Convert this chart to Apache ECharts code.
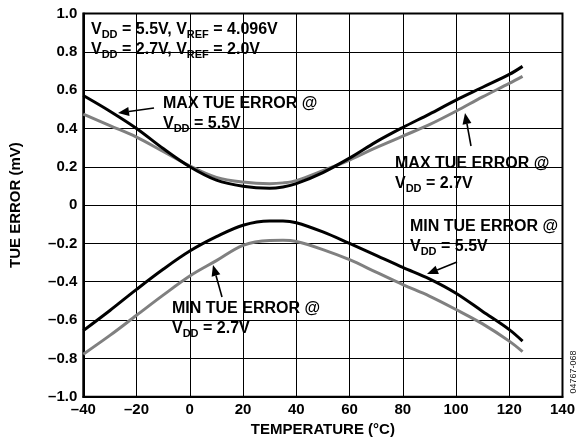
<!DOCTYPE html>
<html>
<head>
<meta charset="utf-8">
<script src="https://cdn.jsdelivr.net/npm/echarts@6/dist/echarts.min.js"></script>
<style>
html,body{margin:0;padding:0;background:#fff;}
#chart{width:578px;height:444px;}
</style>
</head>
<body>
<div id="chart"></div>
<script>
// Data
const temps = [-40,-30,-20,-10,0,10,20,30,35,40,50,60,70,80,90,100,110,120,125];
const maxTue55 = [0.572,0.49,0.40,0.295,0.20,0.13,0.098,0.088,0.095,0.112,0.17,0.245,0.33,0.405,0.475,0.548,0.615,0.682,0.724];
const maxTue27 = [0.475,0.415,0.355,0.28,0.205,0.145,0.12,0.112,0.116,0.128,0.18,0.235,0.30,0.36,0.42,0.49,0.565,0.635,0.672];
const minTue55 = [-0.655,-0.55,-0.44,-0.335,-0.24,-0.165,-0.105,-0.083,-0.083,-0.092,-0.14,-0.20,-0.262,-0.325,-0.385,-0.46,-0.555,-0.65,-0.71];
const minTue27 = [-0.778,-0.68,-0.575,-0.47,-0.37,-0.29,-0.21,-0.185,-0.184,-0.19,-0.232,-0.285,-0.35,-0.415,-0.475,-0.545,-0.62,-0.71,-0.765];
const xTicks = {min:-40, max:140, step:20};
const yTicks = {min:-1.0, max:1.0, step:0.2};

const FONT = 'Liberation Sans, Arial, Helvetica, sans-serif';
function dash(v){ return v < 0 ? '\u2013' + Math.abs(v) : String(v); }
function pair(xs, ys){ return xs.map((x,i)=>[x, ys[i]]); }

const chart = echarts.init(document.getElementById('chart'), null, {renderer:'canvas'});

const rich = {
  b: {fontFamily: FONT, fontWeight:'bold', fontSize:16, lineHeight:20, color:'#000'},
  s: {fontFamily: FONT, fontWeight:'bold', fontSize:11, lineHeight:13, verticalAlign:'bottom', color:'#000'}
};

function label(x, y, txt){
  return {type:'text', x:x, y:y, style:{text:txt, rich:rich, font:'bold 16px '+FONT, fill:'#000', textVerticalAlign:'top'}};
}
function arrow(x1,y1,x2,y2){
  const ang = Math.atan2(y2-y1, x2-x1);
  const L = 11, W = 4.5;
  const bx = x2 - L*Math.cos(ang), by = y2 - L*Math.sin(ang);
  const px = -Math.sin(ang)*W, py = Math.cos(ang)*W;
  return [
    {type:'line', shape:{x1:x1,y1:y1,x2:bx,y2:by}, style:{stroke:'#000', lineWidth:1.6}},
    {type:'polygon', shape:{points:[[x2,y2],[bx+px,by+py],[bx-px,by-py]]}, style:{fill:'#000'}}
  ];
}

const graphics = [
  label(91,20,'{b|V}{s|DD}{b| = 5.5V, V}{s|REF}{b| = 4.096V}\n{b|V}{s|DD}{b| = 2.7V, V}{s|REF}{b| = 2.0V}'),
  label(163,94,'{b|MAX TUE ERROR @}\n{b|V}{s|DD}{b| = 5.5V}'),
  label(395,154,'{b|MAX TUE ERROR @}\n{b|V}{s|DD}{b| = 2.7V}'),
  label(410,217,'{b|MIN TUE ERROR @}\n{b|V}{s|DD}{b| = 5.5V}'),
  label(172,299,'{b|MIN TUE ERROR @}\n{b|V}{s|DD}{b| = 2.7V}'),
  ...arrow(154,108,118,113),
  ...arrow(471,146,465,113),
  ...arrow(457,262,427,274),
  ...arrow(222,297,213,265),
  {type:'text', x:574, y:372, rotation:Math.PI/2,
   style:{text:'04767-068', font:'9px '+FONT, fill:'#222', textAlign:'center', textVerticalAlign:'middle'}}
];

const lineSeries = (name, data, color) => ({
  name:name, type:'line', data:data, showSymbol:false, smooth:0.35,
  lineStyle:{color:color, width:3}, itemStyle:{color:color}, animation:false
});

chart.setOption({
  animation:false,
  backgroundColor:'#fff',
  grid:{left:83.3, right:14.5, top:13.5, bottom:47.3, show:true, borderColor:'#000', borderWidth:2, backgroundColor:'transparent'},
  xAxis:{
    type:'value', min:xTicks.min, max:xTicks.max, interval:xTicks.step,
    name:'TEMPERATURE (\u00B0C)', nameLocation:'middle', nameGap:26,
    nameTextStyle:{fontFamily:FONT, fontWeight:'bold', fontSize:15, color:'#000'},
    axisLine:{show:true, onZero:false, lineStyle:{color:'#000', width:2}},
    axisTick:{show:false},
    axisLabel:{fontFamily:FONT, fontWeight:'bold', fontSize:15, color:'#000', margin:6, formatter:dash},
    splitLine:{show:true, lineStyle:{color:'#000', width:1}}
  },
  yAxis:{
    type:'value', min:yTicks.min, max:yTicks.max, interval:yTicks.step,
    name:'TUE ERROR (mV)', nameLocation:'middle', nameGap:60,
    nameTextStyle:{fontFamily:FONT, fontWeight:'bold', fontSize:15, color:'#000'},
    axisLine:{show:true, onZero:false, lineStyle:{color:'#000', width:2}},
    axisTick:{show:false},
    axisLabel:{fontFamily:FONT, fontWeight:'bold', fontSize:15, color:'#000', margin:6,
      formatter:function(v){ const r = Math.round(v*10)/10; if (r === 0) return '0'; return (r<0?'\u2013':'') + Math.abs(r).toFixed(1); }},
    splitLine:{show:true, lineStyle:{color:'#000', width:1}}
  },
  series:[
    lineSeries('MAX TUE ERROR @ VDD = 2.7V', pair(temps, maxTue27), '#808080'),
    lineSeries('MIN TUE ERROR @ VDD = 2.7V', pair(temps, minTue27), '#808080'),
    lineSeries('MAX TUE ERROR @ VDD = 5.5V', pair(temps, maxTue55), '#000'),
    lineSeries('MIN TUE ERROR @ VDD = 5.5V', pair(temps, minTue55), '#000')
  ],
  graphic:{elements:graphics, zlevel:1}
});
</script>
</body>
</html>
